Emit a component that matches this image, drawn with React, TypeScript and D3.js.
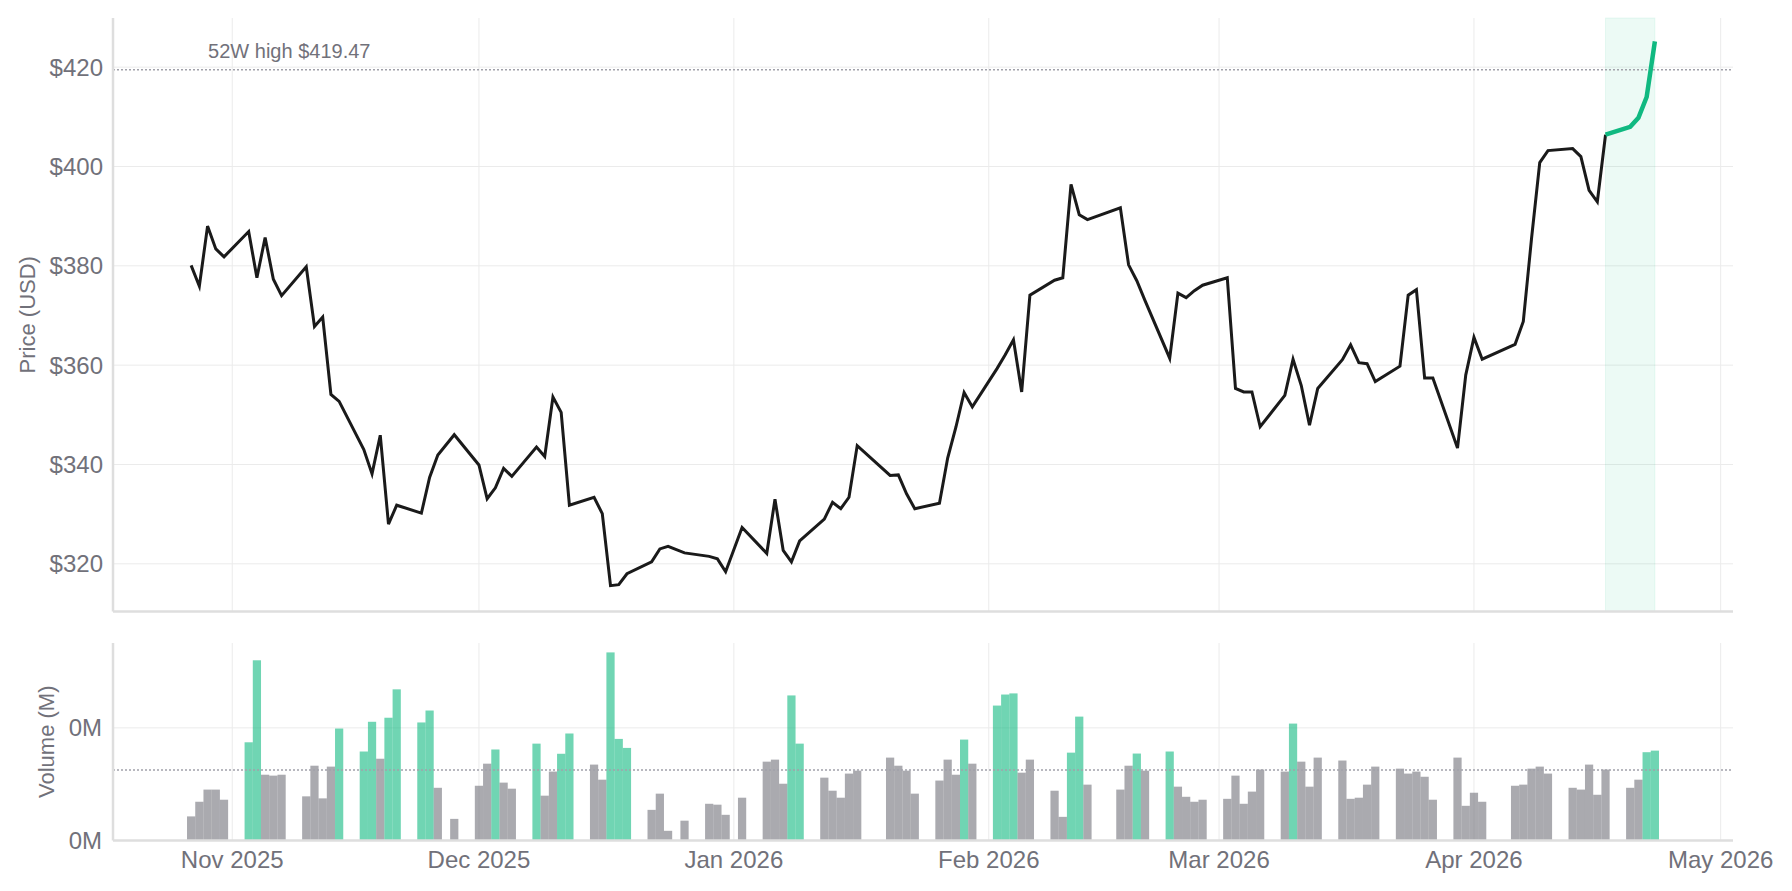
import * as d3 from 'd3';

// trading days, close (USD) and volume (M)
const dates = [
  '2025-10-27', '2025-10-28', '2025-10-29', '2025-10-30', '2025-10-31',
  '2025-11-03', '2025-11-04', '2025-11-05', '2025-11-06', '2025-11-07',
  '2025-11-10', '2025-11-11', '2025-11-12', '2025-11-13', '2025-11-14',
  '2025-11-17', '2025-11-18', '2025-11-19', '2025-11-20', '2025-11-21',
  '2025-11-24', '2025-11-25', '2025-11-26', '2025-11-28',
  '2025-12-01', '2025-12-02', '2025-12-03', '2025-12-04', '2025-12-05',
  '2025-12-08', '2025-12-09', '2025-12-10', '2025-12-11', '2025-12-12',
  '2025-12-15', '2025-12-16', '2025-12-17', '2025-12-18', '2025-12-19',
  '2025-12-22', '2025-12-23', '2025-12-24', '2025-12-26',
  '2025-12-29', '2025-12-30', '2025-12-31', '2026-01-02',
  '2026-01-05', '2026-01-06', '2026-01-07', '2026-01-08', '2026-01-09',
  '2026-01-12', '2026-01-13', '2026-01-14', '2026-01-15', '2026-01-16',
  '2026-01-20', '2026-01-21', '2026-01-22', '2026-01-23',
  '2026-01-26', '2026-01-27', '2026-01-28', '2026-01-29', '2026-01-30',
  '2026-02-02', '2026-02-03', '2026-02-04', '2026-02-05', '2026-02-06',
  '2026-02-09', '2026-02-10', '2026-02-11', '2026-02-12', '2026-02-13',
  '2026-02-17', '2026-02-18', '2026-02-19', '2026-02-20',
  '2026-02-23', '2026-02-24', '2026-02-25', '2026-02-26', '2026-02-27',
  '2026-03-02', '2026-03-03', '2026-03-04', '2026-03-05', '2026-03-06',
  '2026-03-09', '2026-03-10', '2026-03-11', '2026-03-12', '2026-03-13',
  '2026-03-16', '2026-03-17', '2026-03-18', '2026-03-19', '2026-03-20',
  '2026-03-23', '2026-03-24', '2026-03-25', '2026-03-26', '2026-03-27',
  '2026-03-30', '2026-03-31', '2026-04-01', '2026-04-02',
  '2026-04-06', '2026-04-07', '2026-04-08', '2026-04-09', '2026-04-10',
  '2026-04-13', '2026-04-14', '2026-04-15', '2026-04-16', '2026-04-17',
  '2026-04-20', '2026-04-21', '2026-04-22', '2026-04-23',
];

const closes = [
  380.1, 375.9, 388.0, 383.4, 381.8,
  386.9, 377.6, 385.7, 377.3, 374.0,
  379.8, 367.8, 369.7, 354.1, 352.7,
  343.0, 338.1, 345.9, 328.0, 331.8,
  330.2, 337.4, 341.9, 346.0,
  339.9, 333.1, 335.3, 339.2, 337.6,
  343.5, 341.6, 353.6, 350.5, 331.8,
  333.4, 330.1, 315.6, 315.8, 318.0,
  320.4, 323.0, 323.5, 322.2,
  321.5, 321.0, 318.4, 327.3,
  322.1, 333.0, 322.7, 320.4, 324.6,
  329.0, 332.4, 331.1, 333.4, 343.8,
  337.8, 337.9, 334.1, 331.1,
  332.2, 341.3, 347.5, 354.5, 351.6,
  359.3, 362.1, 365.1, 354.6, 374.1,
  377.1, 377.6, 396.4, 390.3, 389.3,
  391.7, 380.2, 377.0, 373.0,
  361.4, 374.5, 373.6, 375.0, 376.1,
  377.6, 355.3, 354.6, 354.6, 347.6,
  353.9, 361.2, 355.9, 347.9, 355.3,
  361.1, 364.1, 360.5, 360.3, 356.7,
  359.8, 374.1, 375.2, 357.4, 357.4,
  343.3, 358.0, 365.6, 361.2,
  364.2, 368.8, 385.5, 400.8, 403.2,
  403.6, 402.0, 395.2, 392.9, 406.4,
  408.0, 409.8, 414.0, 425.2,
];

const volumes = [
  0.107, 0.172, 0.226, 0.226, 0.181,
  0.436, 0.8, 0.292, 0.288, 0.292,
  0.196, 0.332, 0.187, 0.328, 0.497,
  0.395, 0.527, 0.363, 0.545, 0.671,
  0.524, 0.577, 0.234, 0.096,
  0.243, 0.341, 0.404, 0.257, 0.23,
  0.43, 0.199, 0.306, 0.385, 0.475,
  0.337, 0.27, 0.835, 0.451, 0.411,
  0.136, 0.208, 0.043, 0.088,
  0.163, 0.159, 0.114, 0.19,
  0.35, 0.359, 0.252, 0.644, 0.43,
  0.279, 0.221, 0.19, 0.297, 0.31,
  0.368, 0.332, 0.31, 0.208,
  0.266, 0.359, 0.292, 0.448, 0.341,
  0.599, 0.648, 0.653, 0.301, 0.359,
  0.221, 0.105, 0.39, 0.55, 0.248,
  0.226, 0.332, 0.386, 0.31,
  0.395, 0.239, 0.194, 0.172, 0.181,
  0.185, 0.288, 0.163, 0.217, 0.315,
  0.306, 0.519, 0.35, 0.239, 0.368,
  0.355, 0.185, 0.19, 0.248, 0.328,
  0.319, 0.297, 0.306, 0.283, 0.181,
  0.368, 0.154, 0.212, 0.172,
  0.243, 0.248, 0.319, 0.328, 0.297,
  0.234, 0.226, 0.337, 0.203, 0.315,
  0.234, 0.27, 0.392, 0.399,
];

const priceTicks = [320, 340, 360, 380, 400, 420];
const volumeTicks = [0, 0.5];
const priceDomain: [number, number] = [310.4, 429.9];
const high52w = 419.47;
const highlightStart = '2026-04-17';
const spikeFactor = 1.2;

const FONT = '"Liberation Sans", Arial, Helvetica, sans-serif';
const GREEN = '#10b981';
const GRAY = '#71717a';
const TEXT = '#71717a';
const GRID = '#ebebeb';
const AXIS = '#dedede';

type Row = { date: Date; close: number; volume: number };

export default function App() {
  const W = 1792;
  const H = 891;
  const left = 113;
  const right = 1733;
  const priceTop = 18;
  const priceBottom = 611.5;
  const volTop = 643;
  const volBottom = 840.5;
  const DAY = 86400000;
  const padDays = 9.5;

  const parse = d3.utcParse('%Y-%m-%d');
  const rows: Row[] = dates.map((d, i) => ({ date: parse(d)!, close: closes[i], volume: volumes[i] }));
  const first = rows[0].date.getTime();
  const last = rows[rows.length - 1].date.getTime();
  const hlDate = parse(highlightStart)!;

  const x = d3
    .scaleUtc()
    .domain([new Date(first - padDays * DAY), new Date(last + padDays * DAY)])
    .range([left, right]);
  const y = d3.scaleLinear().domain(priceDomain).range([priceBottom, priceTop]);
  const vMax = d3.max(volumes) ?? 1;
  const yv = d3.scaleLinear().domain([0, vMax * 1.05]).range([volBottom, volTop]);
  const vMean = d3.mean(volumes) ?? 0;

  const monthTicks = x.ticks(d3.utcMonth.every(1)!);
  const fmtMonth = d3.utcFormat('%b %Y');

  const line = d3
    .line<Row>()
    .x((d) => x(d.date))
    .y((d) => y(d.close));
  const baseRows = rows.filter((r) => r.date <= hlDate);
  const hlRows = rows.filter((r) => r.date >= hlDate);

  return (
    <div style={{ position: 'fixed', left: 0, top: 0, width: W, height: H, background: '#fff' }}>
      <svg width={W} height={H} style={{ display: 'block', fontFamily: FONT }}>
        {/* vertical month grid, both panels */}
        {monthTicks.map((t) => (
          <g key={`m-${t.getTime()}`}>
            <line x1={x(t)} x2={x(t)} y1={priceTop} y2={priceBottom} stroke={GRID} strokeWidth={1} />
            <line x1={x(t)} x2={x(t)} y1={volTop} y2={volBottom} stroke={GRID} strokeWidth={1} />
            <text x={x(t)} y={868} textAnchor="middle" fontSize={24} fill={TEXT}>
              {fmtMonth(t)}
            </text>
          </g>
        ))}

        {priceTicks.map((t) => (
          <g key={`p-${t}`}>
            <line x1={left} x2={right} y1={y(t)} y2={y(t)} stroke={GRID} strokeWidth={1} />
            <text x={103} y={y(t)} dy="0.35em" textAnchor="end" fontSize={24} fill={TEXT}>
              ${t}
            </text>
          </g>
        ))}

        {volumeTicks.map((t) => (
          <g key={`v-${t}`}>
            {t > 0 && <line x1={left} x2={right} y1={yv(t)} y2={yv(t)} stroke={GRID} strokeWidth={1} />}
            <text x={102} y={yv(t)} dy="0.35em" textAnchor="end" fontSize={24} fill={TEXT}>
              {Math.trunc(t)}M
            </text>
          </g>
        ))}

        {/* highlighted window */}
        <rect
          x={x(hlDate)}
          y={priceTop}
          width={x(rows[rows.length - 1].date) - x(hlDate)}
          height={priceBottom - priceTop}
          fill={GREEN}
          fillOpacity={0.08}
          stroke={GREEN}
          strokeOpacity={0.08}
        />

        {/* 52 week high */}
        <line
          x1={left}
          x2={right}
          y1={y(high52w)}
          y2={y(high52w)}
          stroke="#a1a1aa"
          strokeWidth={1.5}
          strokeDasharray="2 2"
        />
        <text x={x(rows[0].date) + 17} y={y(high52w) - 12} fontSize={20} fill={TEXT}>
          52W high ${high52w.toFixed(2)}
        </text>

        {/* volume bars */}
        {rows.map((r) => {
          const x0 = x(new Date(r.date.getTime() - DAY / 2));
          const x1 = x(new Date(r.date.getTime() + DAY / 2));
          const spike = r.volume > vMean * spikeFactor;
          return (
            <rect
              key={`b-${r.date.getTime()}`}
              x={x0}
              y={yv(r.volume)}
              width={x1 - x0}
              height={volBottom - yv(r.volume)}
              fill={spike ? GREEN : GRAY}
              fillOpacity={0.6}
            />
          );
        })}
        <line
          x1={left}
          x2={right}
          y1={yv(vMean)}
          y2={yv(vMean)}
          stroke="#a1a1aa"
          strokeWidth={1.5}
          strokeDasharray="2 2"
        />

        {/* price line */}
        <path d={line(baseRows) ?? ''} fill="none" stroke="#1a1a1a" strokeWidth={3} />
        <path d={line(hlRows) ?? ''} fill="none" stroke={GREEN} strokeWidth={4.5} />

        {/* axes */}
        <line x1={left} x2={left} y1={priceTop} y2={priceBottom} stroke={AXIS} strokeWidth={2.5} />
        <line x1={left} x2={right} y1={priceBottom} y2={priceBottom} stroke={AXIS} strokeWidth={2.5} />
        <line x1={left} x2={left} y1={volTop} y2={volBottom} stroke={AXIS} strokeWidth={2.5} />
        <line x1={left} x2={right} y1={volBottom} y2={volBottom} stroke={AXIS} strokeWidth={2.5} />

        <text
          transform={`translate(27,${(priceTop + priceBottom) / 2}) rotate(-90)`}
          textAnchor="middle"
          dy="0.35em"
          fontSize={22}
          fill={TEXT}
        >
          Price (USD)
        </text>
        <text
          transform={`translate(46,${(volTop + volBottom) / 2}) rotate(-90)`}
          textAnchor="middle"
          dy="0.35em"
          fontSize={22}
          fill={TEXT}
        >
          Volume (M)
        </text>
      </svg>
    </div>
  );
}
